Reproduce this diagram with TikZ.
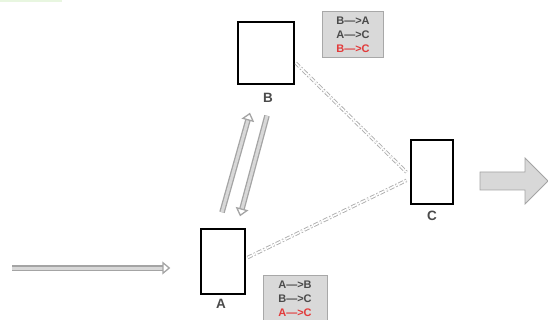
\documentclass[tikz,border=0pt]{standalone}
\usepackage{fontspec}
\setmainfont{Liberation Sans}
\usetikzlibrary{arrows.meta,calc}
\definecolor{lbl}{HTML}{4A4A4A}
\definecolor{flow}{HTML}{A4A4A4}
\definecolor{flowfill}{HTML}{D8D8D8}
\definecolor{tagfill}{HTML}{D9D9D9}
\definecolor{tagline}{HTML}{A8A8A8}
\definecolor{hot}{HTML}{E23A3A}
\tikzset{
  site/.style={draw=black, line width=1.4pt, fill=white, minimum width=#1, inner sep=0pt},
  sitelbl/.style={font=\bfseries\fontsize{13.5}{13.5}\selectfont, text=lbl, inner sep=0pt},
  tag/.style={draw=tagline, line width=0.7pt, fill=tagfill, minimum width=61pt, minimum height=46pt,
    inner sep=1pt, align=center, font=\bfseries\fontsize{11}{14}\selectfont, text=lbl},
  hollow/.style={draw=flow, line width=1.3pt, double=flowfill, double distance=3pt,
    -{Triangle[open, length=8pt, width=13pt]}},
  link/.style={draw=flow!90, line width=0.9pt, double=white, double distance=1.6pt,
    dash pattern=on 5pt off 2pt on 1.5pt off 2pt},
}
\begin{document}
\begin{tikzpicture}[x=1pt,y=-1pt]
  \useasboundingbox (0,0) rectangle (548,320);
  \clip (0,0) rectangle (548,320);
  % faint strip along the top edge
  \fill[yellow!25!green!12] (0,0) rectangle (62,2.2);

  % the three sites
  \node[site=56pt, minimum height=62pt] (B) at (266,53) {};
  \node[site=44pt, minimum height=65pt] (A) at (223,261.5) {};
  \node[site=42pt, minimum height=64pt] (C) at (432,172) {};
  \node[sitelbl] (Bl) at (268,98) {B};
  \node[sitelbl] (Al) at (221,304) {A};
  \node[sitelbl] (Cl) at (432,216) {C};

  % routing tables
  \node[tag] (TB) at (353,34.5) {B---{}>A\\A---{}>C\\\textcolor{hot}{B---{}>C}};
  \node[tag, minimum width=64pt, minimum height=48pt] (TA) at (295,299) {A---{}>B\\B---{}>C\\\textcolor{hot}{A---{}>C}};

  % exchange between A and B
  \coordinate (a1) at ($(A.north)+(-1,-16)$);
  \coordinate (b1) at ($(B.south)+(-16,28)$);
  \coordinate (b2) at ($(B.south)+(1,31)$);
  \coordinate (a2) at ($(A.north)+(17,-12)$);
  \draw[hollow] (a1) -- (b1);
  \draw[hollow] (b2) -- (a2);

  % links towards C
  \coordinate (c1) at ($(C.west)+(-3,1)$);
  \coordinate (c2) at ($(C.west)+(-3,8)$);
  \draw[link] ($(B.east)+(1,10)$) -- (c1);
  \draw[link] ($(A.east)+(2,-4)$) -- (c2);

  % input stream
  \coordinate (in) at (12,268);
  \draw[hollow] (in) -- ($(A.west)+(-30,6.5)$);

  % output block arrow
  \coordinate (out) at (480,181);
  \draw[draw=flow, line width=0.8pt, fill=flowfill]
    (out) ++(0,-9) -- ++(45,0) -- ++(0,-14) -- (548,181) -- (525,204) -- ++(0,-14) -- ++(-45,0) -- cycle;
\end{tikzpicture}
\end{document}
